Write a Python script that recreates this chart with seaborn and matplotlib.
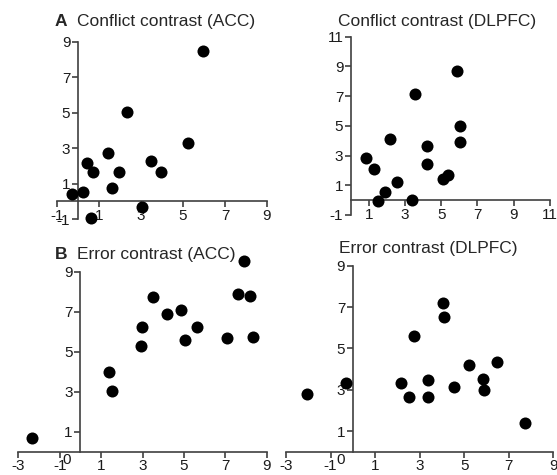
import pandas as pd
from matplotlib import pyplot as plt
import seaborn as sns

# values
conf_acc_x = [-0.3, 0.25, 0.45, 0.7, 0.62, 1.45, 1.6, 1.95, 2.35, 3.05, 3.5, 3.95, 5.25, 5.95]
conf_acc_y = [0.42, 0.52, 2.18, 1.65, -0.96, 2.74, 0.77, 1.65, 5.02, -0.31, 2.27, 1.65, 3.32, 8.49]

conf_dlpfc_x = [0.86, 1.26, 1.51, 1.91, 2.18, 2.55, 3.36, 3.56, 4.19, 4.19, 5.09, 5.39, 5.89, 6.02, 6.02]
conf_dlpfc_y = [2.81, 2.08, -0.05, 0.52, 4.12, 1.21, -0.02, 7.15, 3.64, 2.40, 1.43, 1.69, 8.71, 4.98, 3.88]

err_acc_x = [-2.32, 1.40, 1.53, 2.92, 2.98, 3.51, 4.18, 4.85, 5.05, 5.64, 7.1, 7.62, 7.91, 8.19, 8.32]
err_acc_y = [0.70, 3.98, 3.03, 5.26, 6.23, 7.75, 6.90, 7.08, 5.59, 6.25, 5.69, 7.86, 9.54, 7.76, 5.75]

err_dlpfc_x = [-2.06, -0.31, 2.16, 2.54, 2.74, 3.39, 3.39, 4.05, 4.09, 4.52, 5.2, 5.83, 5.87, 6.47, 7.72]
err_dlpfc_y = [2.80, 3.30, 3.30, 2.66, 5.62, 3.47, 2.66, 7.17, 6.54, 3.13, 4.18, 3.52, 2.97, 4.33, 1.38]

sns.set_style("white")
plt.rcParams['font.family'] = ['Liberation Sans', 'DejaVu Sans']
plt.rcParams['axes.unicode_minus'] = False

fig = plt.figure(figsize=(5.57, 4.75), dpi=100)

panels = [
    # x, y, axes rect, xlim, ylim, xticks, yticks
    (conf_acc_x, conf_acc_y, [0.1023, 0.5389, 0.377, 0.3727], (-1, 9), (-1, 9),
     [-1, 1, 3, 5, 7, 9], [-1, 1, 3, 5, 7, 9]),
    (conf_dlpfc_x, conf_dlpfc_y, [0.630, 0.5474, 0.357, 0.3754], (0, 11), (-1, 11),
     [1, 3, 5, 7, 9, 11], [-1, 1, 3, 5, 7, 9, 11]),
    (err_acc_x, err_acc_y, [0.0329, 0.0491, 0.446, 0.379], (-3, 9), (0, 9),
     [-3, -1, 1, 3, 5, 7, 9], [1, 3, 5, 7, 9]),
    (err_dlpfc_x, err_dlpfc_y, [0.5135, 0.0491, 0.480, 0.3916], (-3, 9), (0, 9),
     [-3, -1, 1, 3, 5, 7, 9], [1, 3, 5, 7, 9]),
]

axes = []
for xs, ys, rect, xl, yl, xt, yt in panels:
    ax = fig.add_axes(rect)
    df = pd.DataFrame({"x": xs, "y": ys})
    sns.scatterplot(data=df, x="x", y="y", ax=ax, color="black", s=75,
                    edgecolor="black", linewidth=0, clip_on=False, zorder=3)
    ax.set_xlim(*xl)
    ax.set_ylim(*yl)
    ax.set_xticks(xt)
    ax.set_yticks(yt)
    ax.set_xlabel("")
    ax.set_ylabel("")
    ax.spines['top'].set_visible(False)
    ax.spines['right'].set_visible(False)
    ax.spines['left'].set_position(('data', 0))
    ax.spines['bottom'].set_position(('data', 0))
    for s in ['left', 'bottom']:
        ax.spines[s].set_color('#404040')
        ax.spines[s].set_linewidth(1.2)
    ax.tick_params(bottom=True, left=True, direction='out', length=4, width=1.2,
                   color='#404040', labelsize=11, labelcolor='#1a1a1a', pad=1.5)
    ax.patch.set_alpha(0)
    axes.append(ax)

# stray "0" labels under the origin of the lower panels
axes[2].text(-0.66, -0.42, "0", ha='center', va='center', fontsize=11, color='#1a1a1a')
axes[3].text(-0.53, -0.42, "0", ha='center', va='center', fontsize=11, color='#1a1a1a')

tfs = 12.5
fig.text(0.0987, 0.9453, "A", fontsize=tfs, fontweight='bold', va='baseline')
fig.text(0.1382, 0.9453, "Conflict contrast (ACC)", fontsize=tfs, va='baseline')
fig.text(0.607, 0.9453, "Conflict contrast (DLPFC)", fontsize=tfs, va='baseline')
fig.text(0.0987, 0.454, "B", fontsize=tfs, fontweight='bold', va='baseline')
fig.text(0.1377, 0.454, "Error contrast (ACC)", fontsize=tfs, va='baseline')
fig.text(0.6086, 0.468, "Error contrast (DLPFC)", fontsize=tfs, va='baseline')

fig.savefig("out.png", dpi=100)
